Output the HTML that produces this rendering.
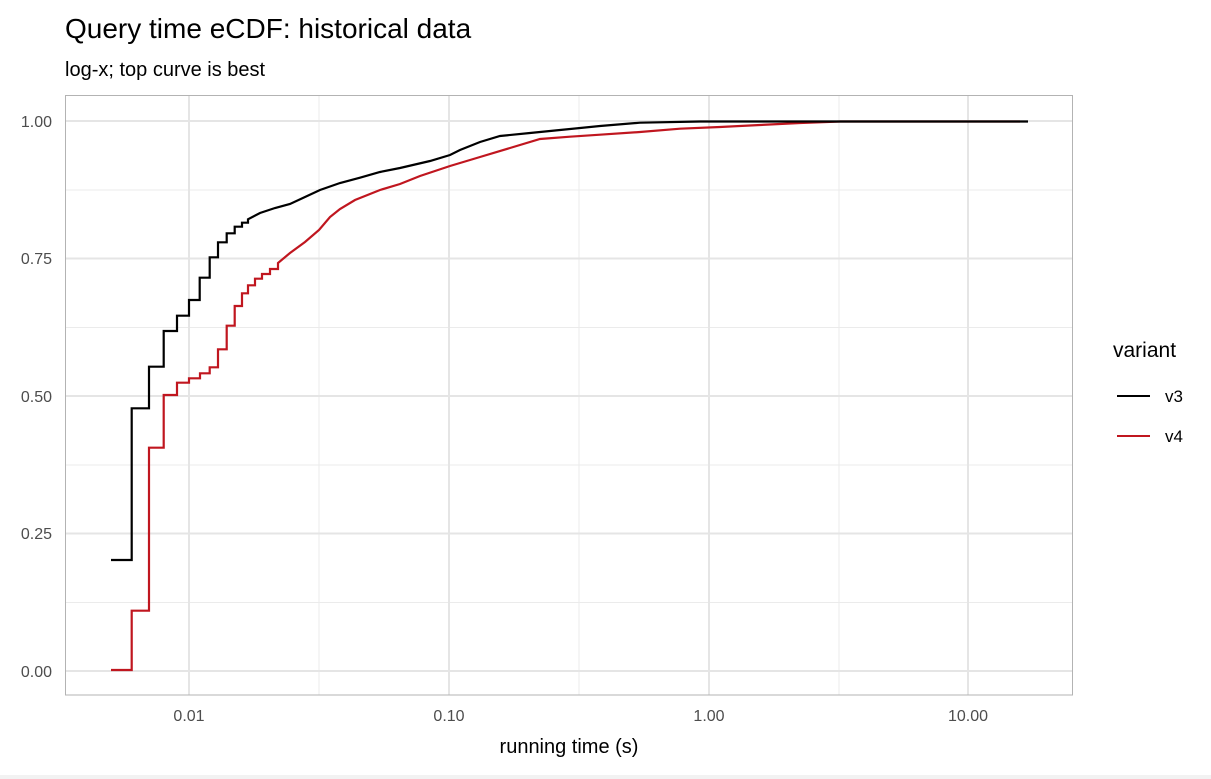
<!DOCTYPE html>
<html><head><meta charset="utf-8"><style>
html,body{margin:0;padding:0;background:#fff;}
svg{display:block;font-family:"Liberation Sans",Arial,sans-serif;}
</style></head><body>
<svg width="1211" height="779" viewBox="0 0 1211 779">
<rect x="0" y="0" width="1211" height="779" fill="#fff"/>
<rect x="0" y="775" width="1211" height="4" fill="#f2f2f2"/>
<text x="65" y="38" font-size="28" fill="#000">Query time eCDF: historical data</text>
<text x="65" y="76" font-size="20" fill="#000">log-x; top curve is best</text>
<g stroke="#ebebeb" stroke-width="1">
<line x1="65" x2="1073" y1="190" y2="190"/><line x1="65" x2="1073" y1="327.5" y2="327.5"/>
<line x1="65" x2="1073" y1="465" y2="465"/><line x1="65" x2="1073" y1="602.5" y2="602.5"/>
<line x1="319" x2="319" y1="95" y2="695"/><line x1="579" x2="579" y1="95" y2="695"/><line x1="839" x2="839" y1="95" y2="695"/>
</g>
<g stroke="#e5e5e5" stroke-width="2">
<line x1="65" x2="1073" y1="121" y2="121"/><line x1="65" x2="1073" y1="258.5" y2="258.5"/>
<line x1="65" x2="1073" y1="396" y2="396"/><line x1="65" x2="1073" y1="533.5" y2="533.5"/>
<line x1="65" x2="1073" y1="671" y2="671"/>
<line x1="189" x2="189" y1="95" y2="695"/><line x1="449" x2="449" y1="95" y2="695"/>
<line x1="709" x2="709" y1="95" y2="695"/><line x1="968" x2="968" y1="95" y2="695"/>
</g>
<rect x="65.5" y="95.5" width="1007" height="599.5" fill="none" stroke="#b3b3b3" stroke-width="1"/>
<polyline fill="none" stroke="#c0161f" stroke-width="2.2" points="111,670 131.7,670 131.7,610.7 149,610.7 149,447.7 163.7,447.7 163.7,395 177,395 177,382.7 189,382.7 189,378.3 200,378.3 200,373.3 209.7,373.3 209.7,367.3 218,367.3 218,349.3 226.7,349.3 226.7,325.7 234.7,325.7 234.7,306 242,306 242,293.3 248,293.3 248,285.3 255,285.3 255,278.7 262,278.7 262,274 270,274 270,269 278,269 278,263 290,253 305,242 319,230 330,217 340,209 355,200 380,190 400,184 420,176 450,166 480,157 510,148 540,139 570,136.7 600,134.7 640,132 680,128.7 720,127 760,125 800,123 840,121.5 1020,121.5"/>
<polyline fill="none" stroke="#000" stroke-width="2.2" points="111,560 131.7,560 131.7,408.3 149,408.3 149,366.7 163.7,366.7 163.7,331 177,331 177,315.7 189,315.7 189,300 199.7,300 199.7,277.7 209.7,277.7 209.7,257.3 218,257.3 218,242.3 226.7,242.3 226.7,233.3 234.7,233.3 234.7,226.7 242,226.7 242,222.7 248,222.7 248,219.3 260,213 275,208 290,204 305,197 320,190 340,183 360,177.7 380,172 400,168 430,161 450,155 460,150 480,142 500,136 530,133 560,130 600,126 640,122.7 700,121.5 1028,121.5"/>
<g font-size="16" fill="#4d4d4d" text-anchor="end">
<text x="52" y="127">1.00</text><text x="52" y="264">0.75</text>
<text x="52" y="402">0.50</text><text x="52" y="539">0.25</text><text x="52" y="677">0.00</text>
</g>
<g font-size="16" fill="#4d4d4d" text-anchor="middle">
<text x="189" y="721">0.01</text><text x="449" y="721">0.10</text>
<text x="709" y="721">1.00</text><text x="968" y="721">10.00</text>
</g>
<text x="569" y="753" font-size="20" fill="#000" text-anchor="middle">running time (s)</text>
<text x="1113" y="357" font-size="21" fill="#000">variant</text>
<line x1="1117" x2="1150" y1="396" y2="396" stroke="#000" stroke-width="2"/>
<text x="1165" y="402" font-size="17" fill="#000">v3</text>
<line x1="1117" x2="1150" y1="436" y2="436" stroke="#c0161f" stroke-width="2"/>
<text x="1165" y="442" font-size="17" fill="#000">v4</text>
</svg>
</body></html>
